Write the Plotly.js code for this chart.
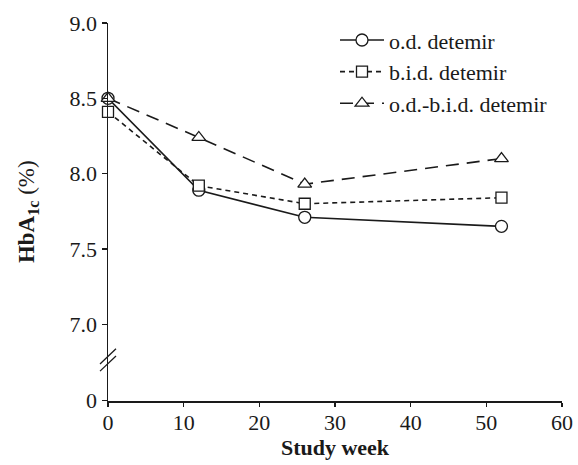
<!DOCTYPE html>
<html>
<head>
<meta charset="utf-8">
<script src="https://cdn.plot.ly/plotly-3.0.1.min.js"></script>
<style>html,body{margin:0;padding:0;background:#fff;}</style>
</head>
<body>
<div id="chart" style="width:578px;height:465px;"></div>
<script>
// Data
const weeks = [0, 12, 26, 52];
const odDetemir = [8.50, 7.89, 7.71, 7.65];
const bidDetemir = [8.41, 7.92, 7.80, 7.84];
const odBidDetemir = [8.50, 8.24, 7.93, 8.10];
const seriesNames = ['o.d. detemir', 'b.i.d. detemir', 'o.d.-b.i.d. detemir'];
const yTickVals = [7.0, 7.5, 8.0, 8.5, 9.0];
const yLowTickVals = [0];
const xTickVals = [0, 10, 20, 30, 40, 50, 60];

const FONT = '"Liberation Serif", "Times New Roman", serif';
const INK = '#1a1a1a';
const split = 0.111;

const common = {
  type: 'scatter', mode: 'lines+markers', xaxis: 'x', yaxis: 'y', cliponaxis: false
};
const traces = [
  Object.assign({}, common, {
    x: weeks, y: odDetemir, name: seriesNames[0],
    line: {color: INK, width: 1.6, dash: 'solid'},
    marker: {symbol: 'circle', size: 12, color: '#ffffff', line: {color: INK, width: 1.3}}
  }),
  Object.assign({}, common, {
    x: weeks, y: bidDetemir, name: seriesNames[1],
    line: {color: INK, width: 1.6, dash: '5px,4px'},
    marker: {symbol: 'square', size: 11, color: '#ffffff', line: {color: INK, width: 1.3}}
  }),
  Object.assign({}, common, {
    x: weeks, y: odBidDetemir, name: seriesNames[2],
    line: {color: INK, width: 1.6, dash: '13px,8px'},
    marker: {symbol: 'triangle-up', size: 12, color: '#ffffff', line: {color: INK, width: 1.3}}
  }),
  // empty helper trace so the lower (broken) axis segment is active
  {type: 'scatter', mode: 'markers', x: [null], y: [null], xaxis: 'x', yaxis: 'y2',
   showlegend: false, hoverinfo: 'skip', marker: {opacity: 0}}
];

const layout = {
  width: 578, height: 465,
  margin: {l: 108, r: 16, t: 23, b: 64},
  paper_bgcolor: '#ffffff', plot_bgcolor: '#ffffff',
  font: {family: FONT, size: 22, color: INK},
  showlegend: true,
  legend: {
    x: 0.50, y: 1.01, xanchor: 'left', yanchor: 'top',
    bgcolor: 'rgba(0,0,0,0)', borderwidth: 0,
    font: {family: FONT, size: 22, color: INK},
    itemwidth: 44, tracegroupgap: 0
  },
  xaxis: {
    anchor: 'y2', range: [0, 60], tickvals: xTickVals,
    showline: true, linecolor: INK, linewidth: 1.5,
    ticks: 'outside', ticklen: 4, tickwidth: 1.3, tickcolor: INK,
    ticklabelstandoff: -3,
    showgrid: false, zeroline: false,
    tickfont: {family: FONT, size: 22, color: INK},
    title: {text: '<b>Study week</b>', font: {family: FONT, size: 22, color: INK}, standoff: 5}
  },
  yaxis: {
    domain: [split, 1], anchor: 'x', range: [6.769, 9.0],
    tickvals: yTickVals, tickformat: '.1f',
    showline: true, linecolor: INK, linewidth: 1.5,
    ticks: 'outside', ticklen: 5, tickwidth: 1.3, tickcolor: INK,
    showgrid: false, zeroline: false,
    tickfont: {family: FONT, size: 22, color: INK}
  },
  yaxis2: {
    domain: [0, split], anchor: 'x', range: [-0.02, 1],
    tickmode: 'array', tickvals: yLowTickVals, ticktext: yLowTickVals.map(String),
    showline: true, linecolor: INK, linewidth: 1.5,
    ticks: 'outside', ticklen: 5, tickwidth: 1.3, tickcolor: INK,
    showgrid: false, zeroline: false, showticklabels: true,
    tickfont: {family: FONT, size: 22, color: INK}
  },
  annotations: [{
    xref: 'paper', yref: 'paper', x: -0.176, y: 0.5,
    xanchor: 'center', yanchor: 'middle', textangle: -90, showarrow: false,
    text: '<b>HbA<sub>1c</sub></b> (%)',
    font: {family: FONT, size: 23, color: INK}
  }],
  shapes: [
    {type: 'line', xref: 'paper', yref: 'paper', x0: -0.0176, y0: 0.079, x1: 0.0176, y1: 0.119,
     line: {color: INK, width: 1.3}},
    {type: 'line', xref: 'paper', yref: 'paper', x0: -0.0176, y0: 0.098, x1: 0.0176, y1: 0.138,
     line: {color: INK, width: 1.3}}
  ]
};

Plotly.newPlot('chart', traces, layout, {displayModeBar: false, staticPlot: true});
</script>
</body>
</html>
